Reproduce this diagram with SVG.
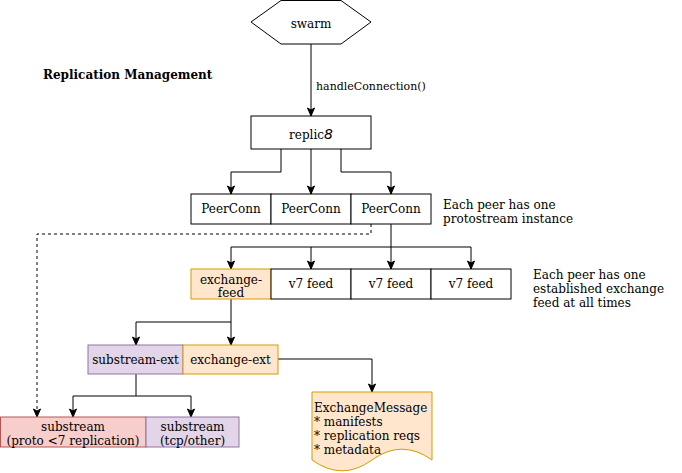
<svg xmlns="http://www.w3.org/2000/svg" width="682" height="473" viewBox="0 0 682 473">
<style>
text{font-family:"DejaVu Serif","Liberation Serif",serif;font-size:12px;fill:#000}
.c{text-anchor:middle}
.box{fill:#fff;stroke:#000;stroke-width:1}
.org{fill:#ffe6cc;stroke:#d79b00;stroke-width:1}
.pur{fill:#e1d5e7;stroke:#9673a6;stroke-width:1}
.red{fill:#f8cecc;stroke:#b85450;stroke-width:1}
.ln{fill:none;stroke:#000;stroke-width:1;marker-end:url(#arr)}
.dash{stroke-dasharray:3 3}
</style>
<defs>
<marker id="arr" markerUnits="userSpaceOnUse" markerWidth="10" markerHeight="10" viewBox="0 0 10 10" refX="9" refY="5" orient="auto">
<path d="M1,1.5 L9,5 L1,8.5 L3,5 Z" fill="#000" stroke="#000" stroke-width="1"/>
</marker>
</defs>
<rect width="682" height="473" fill="#fff"/>
<g id="title"><text x="43" y="79" style="font-weight:bold">Replication Management</text></g>
<g id="connectors">
<path class="ln" d="M311,44 L311,116"/>
<text x="316" y="90" style="font-size:11px">handleConnection()</text>
<path class="ln" d="M281,149 L281,172 L231,172 L231,194"/>
<path class="ln" d="M311,149 L311,194"/>
<path class="ln" d="M341,149 L341,172 L391,172 L391,194"/>
<path class="ln dash" d="M371,224 L371,234 L37,234 L37,417"/>
<path class="ln" d="M391,224 L391,247 L231,247 L231,269"/>
<path class="ln" d="M311,247 L311,269"/>
<path class="ln" d="M391,247 L391,269"/>
<path class="ln" d="M391,247 L471,247 L471,269"/>
<path class="ln" d="M231,299 L231,322 L136,322 L136,345"/>
<path class="ln" d="M231,322 L231,345"/>
<path class="ln" d="M278,359 L372,359 L372,392"/>
<path class="ln" d="M136,374 L136,396 L73,396 L73,417"/>
<path class="ln" d="M136,396 L191,396 L191,417"/>
</g>
<g id="swarm"><polygon class="box" points="281,0.5 341,0.5 371,22 341,44 281,44 251,22"/><text class="c" x="311" y="28">swarm</text></g>
<g id="replic8"><rect class="box" x="251" y="116" width="120" height="33"/><text class="c" x="311" y="139">replic<tspan style="font-family:'DejaVu Sans',sans-serif;font-style:italic;font-size:14px">8</tspan></text></g>
<g id="peerconn1"><rect class="box" x="191" y="194" width="80" height="30"/><text class="c" x="231" y="213">PeerConn</text></g>
<g id="peerconn2"><rect class="box" x="271" y="194" width="80" height="30"/><text class="c" x="311" y="213">PeerConn</text></g>
<g id="peerconn3"><rect class="box" x="351" y="194" width="80" height="30"/><text class="c" x="391" y="213">PeerConn</text></g>
<g id="note1"><text x="443" y="209">Each peer has one</text><text x="443" y="223">protostream instance</text></g>
<g id="exchange-feed"><rect class="org" x="191" y="269" width="80" height="30"/><text class="c" x="231" y="283.5">exchange-</text><text class="c" x="231" y="297">feed</text></g>
<g id="v7feed1"><rect class="box" x="271" y="269" width="80" height="30"/><text class="c" x="311" y="288">v7 feed</text></g>
<g id="v7feed2"><rect class="box" x="351" y="269" width="80" height="30"/><text class="c" x="391" y="288">v7 feed</text></g>
<g id="v7feed3"><rect class="box" x="431" y="269" width="80" height="30"/><text class="c" x="471" y="288">v7 feed</text></g>
<g id="note2"><text x="533" y="279">Each peer has one</text><text x="533" y="293">established exchange</text><text x="533" y="307">feed at all times</text></g>
<g id="substream-ext"><rect class="pur" x="88" y="345" width="95" height="29"/><text class="c" x="135.5" y="364">substream-ext</text></g>
<g id="exchange-ext"><rect class="org" x="183" y="345" width="95" height="29"/><text class="c" x="230.5" y="364">exchange-ext</text></g>
<g id="substream-proto"><rect class="red" x="0.5" y="417" width="145.5" height="30"/><text class="c" x="73" y="431">substream</text><text class="c" x="73" y="445">(proto &lt;7 replication)</text></g>
<g id="substream-tcp"><rect class="pur" x="146" y="417" width="93" height="30"/><text class="c" x="192.5" y="431">substream</text><text class="c" x="192.5" y="445">(tcp/other)</text></g>
<g id="exchange-message"><path class="org" d="M312,392 L432,392 L432,460 Q402,438.4 372,460 Q342,481.6 312,460 Z"/>
<text x="314" y="412">ExchangeMessage</text><text x="314" y="426">* manifests</text><text x="314" y="440">* replication reqs</text><text x="314" y="454">* metadata</text></g>
</svg>
